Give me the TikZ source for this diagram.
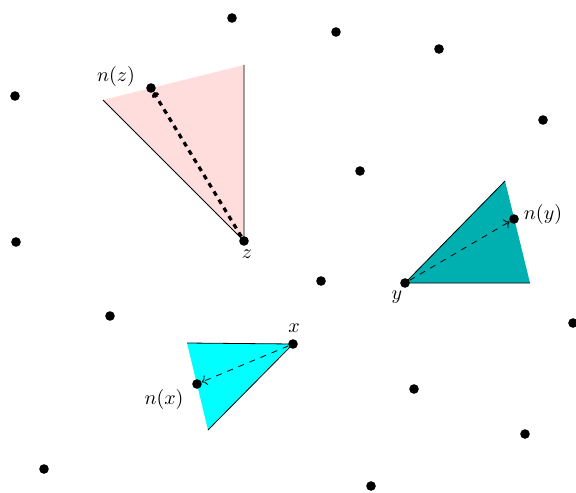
\documentclass[tikz,border=0pt]{standalone}
\usetikzlibrary{arrows.meta}
\definecolor{pinkfill}{RGB}{255,221,221}
\definecolor{tealfill}{RGB}{0,176,176}
\definecolor{cyanfill}{RGB}{0,255,255}
\begin{document}
\begin{tikzpicture}[x=0.5pt,y=-0.5pt,
  pt/.style={circle,fill=black,inner sep=0pt,minimum size=4.8pt},
  lab/.style={inner sep=1pt},
  edge/.style={draw=black,line width=0.4pt}]
\useasboundingbox (0,0) rectangle (576,492);
% triangles
\coordinate (za) at (103,100);
\coordinate (zb) at (244,65);
\coordinate (ya) at (505,181);
\coordinate (yb) at (530,283);
\coordinate (xa) at (187,343);
\coordinate (xb) at (208,430);
\coordinate (zc) at (244,241);
\coordinate (yc) at (405,283);
\coordinate (xc) at (293,344);
\fill[pinkfill] (zc) -- (za) -- (zb) -- cycle;
\fill[tealfill] (yc) -- (ya) -- (yb) -- cycle;
\fill[cyanfill] (xc) -- (xa) -- (xb) -- cycle;
\draw[edge] (za) -- (zc) -- (zb);
\draw[edge] (ya) -- (yc) -- (yb);
\draw[edge] (xa) -- (xc) -- (xb);
% points
\node[pt] (z) at (zc) {};
\node[pt] (y) at (yc) {};
\node[pt] (x) at (xc) {};
\node[pt] (nz) at (151,88) {};
\node[pt] (ny) at (514,219) {};
\node[pt] (nx) at (197,384) {};
\foreach \p [count=\i] in {(232,18),(336,32),(439,49),(15,96),(543,120),(360,171),(16,242),(321,281),(110,316),(573,323),(414,389),(525,434),(44,469),(371,486)}
  \node[pt] (p\i) at \p {};
% arrows
\draw[line width=1.6pt,dash pattern=on 2.4pt off 2.4pt,-{To[length=2.5pt,width=4pt]}] (z) -- (nz);
\draw[dashed,->] (y) -- (ny);
\draw[dashed,->] (x) -- (nx);
% labels
\node[lab] (lnz) at (116,77) {$n(z)$};
\node[lab] (lz) at (247,254) {$z$};
\node[lab] (lny) at (543,214) {$n(y)$};
\node[lab] (ly) at (397,297) {$y$};
\node[lab] (lx) at (294,328) {$x$};
\node[lab] (lnx) at (164,399) {$n(x)$};
\end{tikzpicture}
\end{document}
